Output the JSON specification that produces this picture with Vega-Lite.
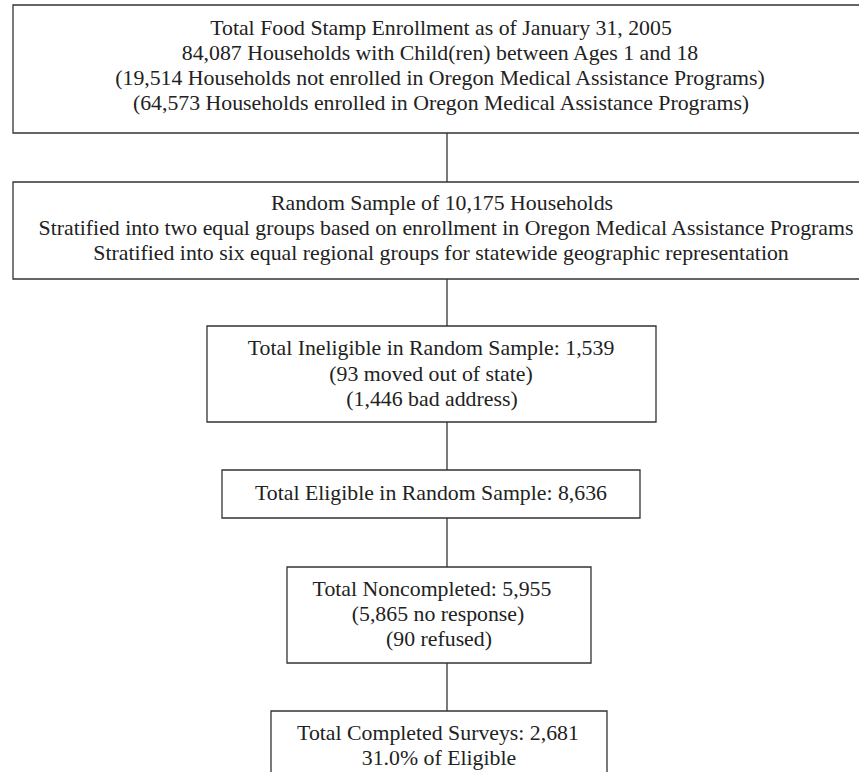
{
  "$schema": "https://vega.github.io/schema/vega-lite/v6.json",
  "width": 859,
  "height": 772,
  "padding": 0,
  "autosize": {"type": "none"},
  "background": "white",
  "config": {"view": {"stroke": null}},
  "datasets": {
    "boxes": [
      {"box": "Enrollment", "x1": 13, "x2": 864, "y1": 5, "y2": 133},
      {"box": "Sample", "x1": 13, "x2": 864, "y1": 182, "y2": 279},
      {"box": "Ineligible", "x1": 207, "x2": 656, "y1": 326, "y2": 422},
      {"box": "Eligible", "x1": 222, "x2": 640, "y1": 470, "y2": 518},
      {"box": "Noncompleted", "x1": 287, "x2": 591, "y1": 567, "y2": 663},
      {"box": "Completed", "x1": 271, "x2": 607, "y1": 711, "y2": 800}
    ],
    "links": [
      {"x": 447, "y1": 133, "y2": 182},
      {"x": 447, "y1": 279, "y2": 326},
      {"x": 447, "y1": 422, "y2": 470},
      {"x": 447, "y1": 518, "y2": 567},
      {"x": 447, "y1": 663, "y2": 711}
    ],
    "labels": [
      {"x": 441, "y": 28, "text": "Total Food Stamp Enrollment as of January 31, 2005"},
      {"x": 440, "y": 53, "text": "84,087 Households with Child(ren) between Ages 1 and 18"},
      {"x": 440, "y": 78, "text": "(19,514 Households not enrolled in Oregon Medical Assistance Programs)"},
      {"x": 441, "y": 103, "text": "(64,573 Households enrolled in Oregon Medical Assistance Programs)"},
      {"x": 442, "y": 203, "text": "Random Sample of 10,175 Households"},
      {"x": 446, "y": 228, "text": "Stratified into two equal groups based on enrollment in Oregon Medical Assistance Programs"},
      {"x": 441, "y": 253, "text": "Stratified into six equal regional groups for statewide geographic representation"},
      {"x": 431, "y": 348, "text": "Total Ineligible in Random Sample: 1,539"},
      {"x": 431, "y": 374, "text": "(93 moved out of state)"},
      {"x": 432, "y": 399, "text": "(1,446 bad address)"},
      {"x": 431, "y": 493, "text": "Total Eligible in Random Sample: 8,636"},
      {"x": 432, "y": 589, "text": "Total Noncompleted: 5,955"},
      {"x": 438, "y": 614, "text": "(5,865 no response)"},
      {"x": 439, "y": 639, "text": "(90 refused)"},
      {"x": 438, "y": 733, "text": "Total Completed Surveys: 2,681"},
      {"x": 439, "y": 758, "text": "31.0% of Eligible"}
    ]
  },
  "layer": [
    {
      "data": {"name": "links"},
      "mark": {"type": "rule", "stroke": "#333333", "strokeWidth": 1.3},
      "encoding": {
        "x": {"field": "x", "type": "quantitative", "scale": {"domain": [0, 859], "nice": false, "zero": false}, "axis": null},
        "y": {"field": "y1", "type": "quantitative", "scale": {"domain": [0, 772], "nice": false, "zero": false, "reverse": true}, "axis": null},
        "y2": {"field": "y2"}
      }
    },
    {
      "data": {"name": "boxes"},
      "mark": {"type": "rect", "fill": "white", "stroke": "#333333", "strokeWidth": 1.3, "clip": true},
      "encoding": {
        "x": {"field": "x1", "type": "quantitative", "scale": {"domain": [0, 859], "nice": false, "zero": false}, "axis": null},
        "x2": {"field": "x2"},
        "y": {"field": "y1", "type": "quantitative", "scale": {"domain": [0, 772], "nice": false, "zero": false, "reverse": true}, "axis": null},
        "y2": {"field": "y2"}
      }
    },
    {
      "data": {"name": "labels"},
      "mark": {"type": "text", "font": "Liberation Serif", "fontSize": 21.8, "fill": "#222222", "align": "center", "baseline": "middle"},
      "encoding": {
        "x": {"field": "x", "type": "quantitative", "scale": {"domain": [0, 859], "nice": false, "zero": false}, "axis": null},
        "y": {"field": "y", "type": "quantitative", "scale": {"domain": [0, 772], "nice": false, "zero": false, "reverse": true}, "axis": null},
        "text": {"field": "text", "type": "nominal"}
      }
    }
  ]
}
